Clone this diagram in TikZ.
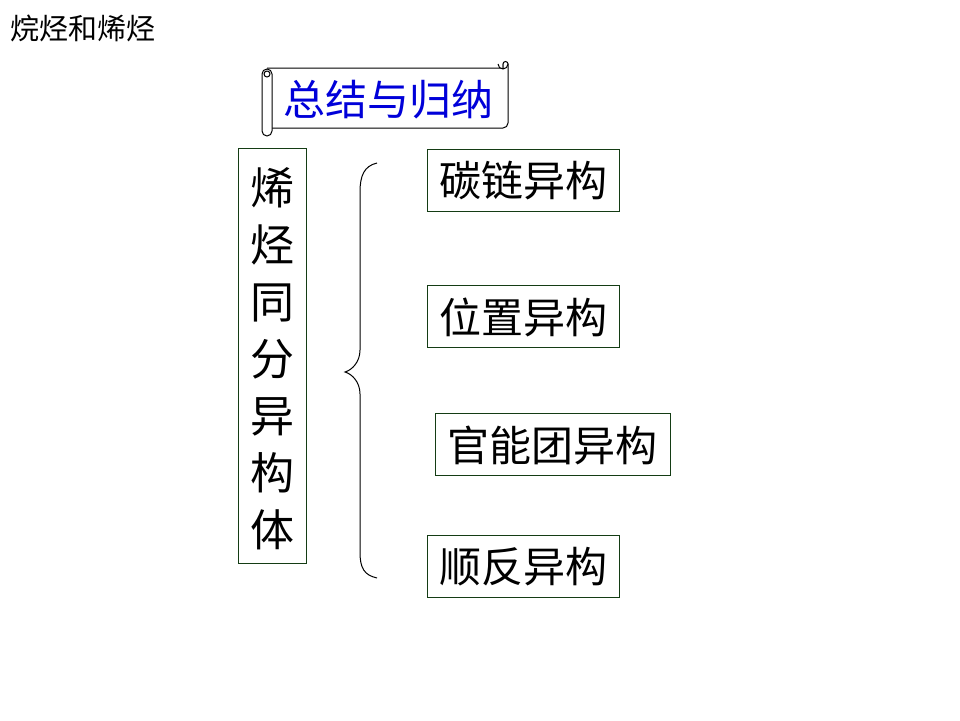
\documentclass[tikz,border=0pt]{standalone}
\usepackage{fontspec}
\newfontfamily\cjk{Noto Sans CJK SC}
\definecolor{boxgreen}{RGB}{20,60,20}
\begin{document}
\begin{tikzpicture}[x=1pt,y=-1pt,
  txt/.style={font=\cjk\fontsize{42}{50}\selectfont, inner sep=0pt},
  termbox/.style={draw=boxgreen, line width=1pt, fill=white, inner sep=0pt}]
\useasboundingbox (0,0) rectangle (960,720);
% page title
\node[font=\cjk\fontsize{29}{32}\selectfont, anchor=west, inner sep=0pt] (pagetitle) at (10,28) {烷烃和烯烃};
% scroll
\begin{scope}[line width=1pt]
  \draw[fill=white] (267,68) -- (503,68) -- (503,64) -- (508,64) -- (508,123) arc[start angle=0,end angle=90,radius=5] -- (272,128);
  \draw[fill=white] (498,64) arc[start angle=180,end angle=0,radius=5] arc[start angle=0,end angle=-180,radius=2.5] -- (503,68);
  \draw[fill=white,rounded corners=5] (262,69) rectangle (272,136);
  \draw (267,74) circle[radius=3];
\end{scope}
\node[font=\cjk\fontsize{42}{48}\selectfont, text=blue!85!black, inner sep=0pt] (summary) at (388,100) {总结与归纳};
% vertical box
\node[draw=boxgreen, line width=1pt, minimum width=68, minimum height=415, inner sep=0pt] (vbox) at (272,355.5) {};
\node[txt, align=center, font=\cjk\fontsize{44}{57}\selectfont] (vtext) at (272,359) {烯\\烃\\同\\分\\异\\构\\体};
% brace
\draw[line width=1pt] (377,163) .. controls (364,166) and (360,176) .. (360,192) -- (360,350)
  .. controls (360,362) and (352,370) .. (345,372)
  .. controls (352,374) and (360,382) .. (360,394) -- (360,552)
  .. controls (360,568) and (364,575) .. (377,578);
% boxes
\node[termbox, minimum width=192, minimum height=62] (b1) at (523,180) {};
\node[txt] (t1) at (523,181) {碳链异构};
\node[termbox, minimum width=192, minimum height=62] (b2) at (523,316) {};
\node[txt] (t2) at (523,317) {位置异构};
\node[termbox, minimum width=235, minimum height=62] (b3) at (552.5,444) {};
\node[txt] (t3) at (552.5,445) {官能团异构};
\node[termbox, minimum width=192, minimum height=62] (b4) at (523,566) {};
\node[txt] (t4) at (523,567) {顺反异构};
\end{tikzpicture}
\end{document}
